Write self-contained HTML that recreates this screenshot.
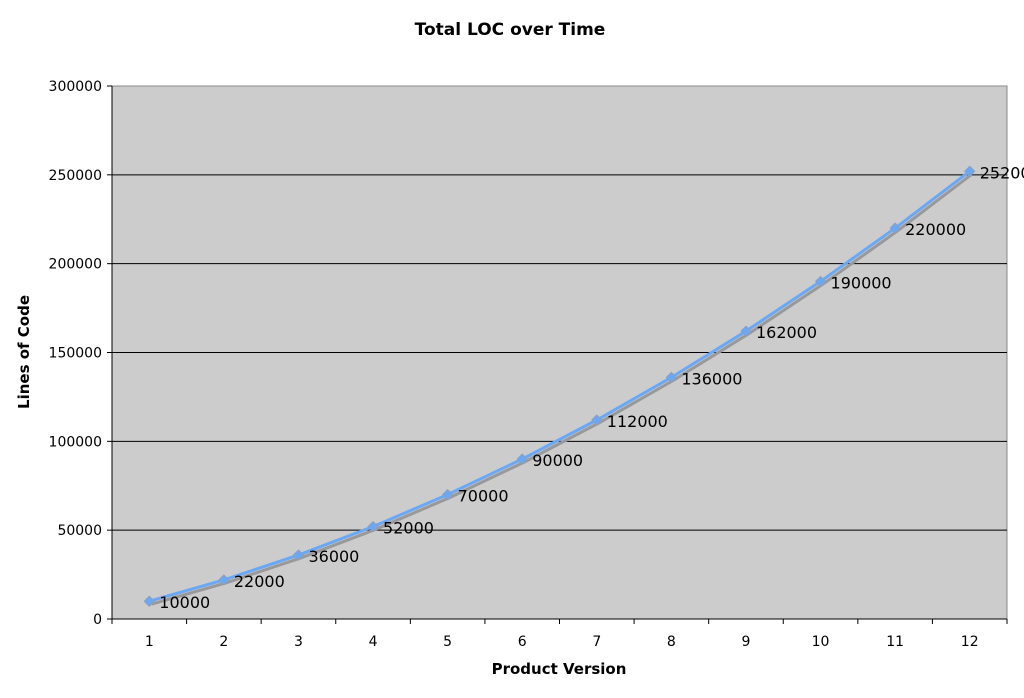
<!DOCTYPE html>
<html><head><meta charset="utf-8"><style>
body{margin:0;background:#fff;}
svg{display:block;font-family:"DejaVu Sans","Liberation Sans",sans-serif;}
</style></head><body>
<svg id="c" width="1024" height="698">
<text x="510" y="35" text-anchor="middle" font-size="17" font-weight="bold">Total LOC over Time</text>
<rect x="112" y="86" width="895" height="533" fill="#cccccc" stroke="#888"/>
<g id="grid"></g><g id="axes"></g><g id="series"></g>
<text x="559" y="674" text-anchor="middle" font-size="15" font-weight="bold">Product Version</text>
<text transform="translate(29,352) rotate(-90)" text-anchor="middle" font-size="15" font-weight="bold">Lines of Code</text>
</svg>
<script>
const categories=[1,2,3,4,5,6,7,8,9,10,11,12];
const values=[10000,22000,36000,52000,70000,90000,112000,136000,162000,190000,220000,252000];
const yTicks=[0,50000,100000,150000,200000,250000,300000];
const NS="http://www.w3.org/2000/svg";
const L=112,R=1007,T=86,B=619,yMax=300000;
const xs=i=>L+(i+0.5)*(R-L)/categories.length;
const ys=v=>B-v/yMax*(B-T);
function mk(t,a,p){const e=document.createElementNS(NS,t);for(const k in a)e.setAttribute(k,a[k]);p.appendChild(e);return e;}
const g=document.getElementById('grid'),ax=document.getElementById('axes'),s=document.getElementById('series');
yTicks.forEach(v=>{
 if(v>0&&v<yMax){const l=mk('line',{x1:L,x2:R,y1:ys(v),y2:ys(v),stroke:'#000','stroke-width':1},g);
 
 }
 const t=mk('text',{x:102,y:ys(v)+5,'text-anchor':'end','font-size':14},ax);t.textContent=v;
 
 
 mk('line',{x1:107,x2:112,y1:ys(v),y2:ys(v),stroke:'#000'},ax);
});
mk('line',{x1:L,x2:L,y1:T,y2:B,stroke:'#000'},ax);
mk('line',{x1:L,x2:R,y1:B,y2:B,stroke:'#000'},ax);
for(let i=0;i<=categories.length;i++){const x=L+i*(R-L)/categories.length;mk('line',{x1:x,x2:x,y1:B,y2:B+5,stroke:'#000'},ax);}
categories.forEach((c,i)=>{const t=mk('text',{x:xs(i),y:646,'text-anchor':'middle','font-size':14},ax);t.textContent=c;
 
 });
const pts=values.map((v,i)=>xs(i)+','+ys(v)).join(' ');
mk('polyline',{points:values.map((v,i)=>(xs(i)+2)+','+(ys(v)+3)).join(' '),fill:'none',stroke:'#999','stroke-width':3},s);
const line=mk('polyline',{points:pts,fill:'none',stroke:'#6aa8f5','stroke-width':3},s);


values.forEach((v,i)=>{const x=xs(i),y=ys(v);
 const m=mk('polygon',{points:`${x},${y-5} ${x+5},${y} ${x},${y+5} ${x-5},${y}`,fill:'#6aa8f5',stroke:'#8aa0c0'},s);
 
 
 const t=mk('text',{x:x+10,y:y+7,'font-size':16},s);t.textContent=v;
 
 
});
</script>
</body></html>
